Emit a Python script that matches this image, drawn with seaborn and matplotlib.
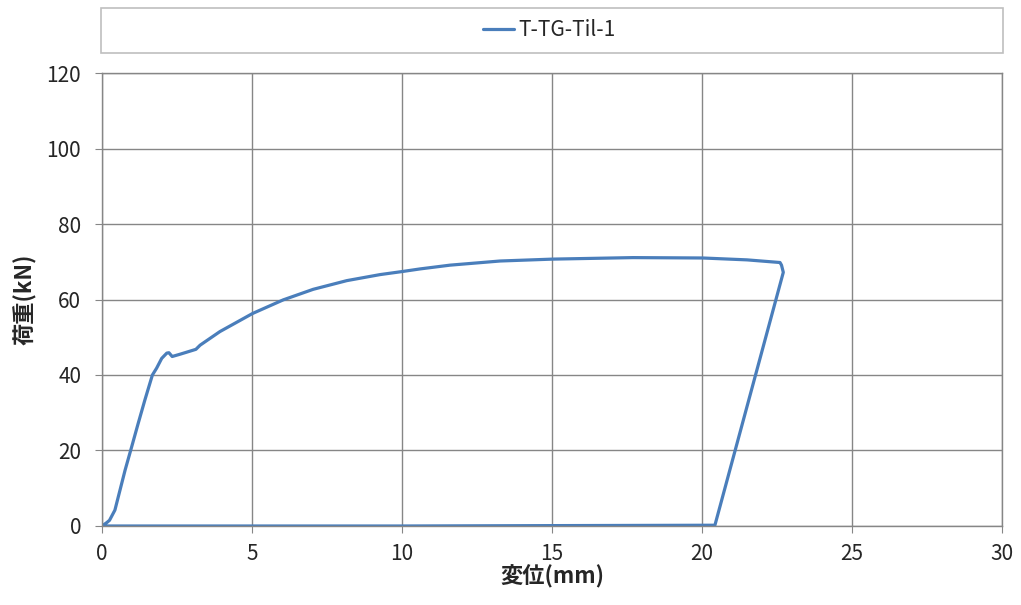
import matplotlib.pyplot as plt
import matplotlib.patches as mpatches
import seaborn as sns
import pandas as pd

# Load-displacement data
disp = [0.0, 0.16, 0.25, 0.43, 0.6, 0.77, 0.99, 1.2, 1.43, 1.68, 1.82, 1.99, 2.16, 2.23,
        2.34, 2.6, 3.13, 3.27, 3.93, 5.02, 6.04, 7.04, 8.16, 9.27, 10.0, 10.6, 11.6,
        13.27, 15.02, 17.7, 20.02, 21.5, 22.6, 22.65, 22.71, 20.43, 15.0, 10.0, 5.0, 0.0]
load = [0.0, 0.9, 1.5, 4.2, 9.5, 14.8, 21.0, 27.0, 33.4, 40.0, 41.8, 44.4, 45.8, 45.9,
        44.9, 45.5, 46.8, 47.9, 51.5, 56.3, 59.9, 62.7, 65.0, 66.6, 67.4, 68.1, 69.1,
        70.2, 70.7, 71.1, 71.0, 70.5, 69.8, 69.1, 67.2, 0.2, 0.1, 0.0, 0.0, 0.0]
series = "T-TG-Til-1"

df = pd.DataFrame({"変位(mm)": disp, "荷重(kN)": load})

sns.set_style("white")
plt.rcParams["font.family"] = ["Noto Sans CJK JP", "DejaVu Sans"]

fig = plt.figure(figsize=(10.21, 6.05), dpi=100)
ax = fig.add_axes([0.0999, 0.1306, 0.8815, 0.7487])

sns.lineplot(data=df, x="変位(mm)", y="荷重(kN)", sort=False, estimator=None,
             color="#4a7ebb", linewidth=2.3, ax=ax, label=series, legend=False)

ax.set_xlim(0, 30)
ax.set_ylim(0, 120)
ax.set_xticks(range(0, 31, 5))
ax.set_yticks(range(0, 121, 20))
ax.grid(True, color="#868686", linewidth=1.0)
for s in ax.spines.values():
    s.set_color("#868686")
    s.set_linewidth(1.0)
ax.tick_params(axis="both", labelsize=15, length=5, color="#868686", direction="out",
               left=True, bottom=True, labelcolor="#262626")
ax.tick_params(axis="y", pad=10)
ax.tick_params(axis="x", pad=7)
ax.set_xlabel("変位(mm)", fontsize=16, fontweight="bold", labelpad=0)
ax.set_ylabel("荷重(kN)", fontsize=16, fontweight="bold", labelpad=7)

# legend box above the plot
fig.patches.append(mpatches.Rectangle((0.0989, 0.9124), 0.8835, 0.0744,
                                      transform=fig.transFigure, facecolor="white",
                                      edgecolor="#bfbfbf", linewidth=1.2))
handles, labels = ax.get_legend_handles_labels()
fig.legend(handles, labels, loc="center", bbox_to_anchor=(0.538, 0.9496),
           frameon=False, fontsize=15, handlelength=1.5, handletextpad=0.2,
           labelcolor="#262626")

plt.savefig("out.png", dpi=100)
plt.close()
